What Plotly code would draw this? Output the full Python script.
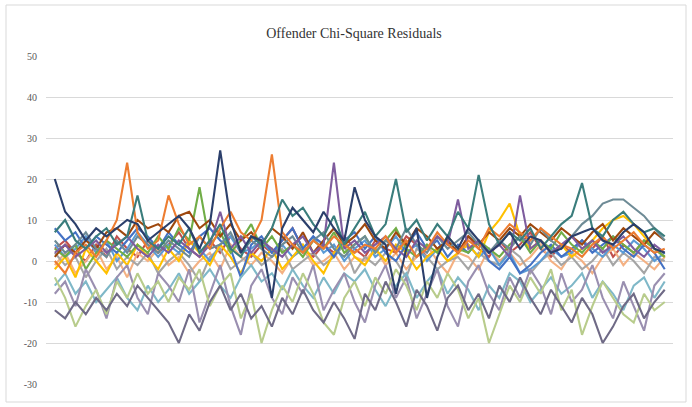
import plotly.graph_objects as go

title_text = "Offender Chi-Square Residuals"
x_idx = list(range(1, 61))
y_ticks = [-30, -20, -10, 0, 10, 20, 30, 40, 50]

s01 = [20, 12, 9, 5, 8, 6, 8, 10, 9, 5, 7, 9, 11, 8, 3, 9, 27, 10, 2, 6,
       5, -9, 8, 13, 10, 7, 12, 8, 5, 18, 10, 6, 4, -8, 3, 8, -9, 1, 6, 3,
       8, 5, 2, 4, 7, 3, 6, 5, 2, 3, 6, 7, 8, 5, 4, 7, 9, 7, 3, 2]
s02 = [0, -3, 2, 4, 1, 5, 10, 24, 7, 3, 5, 16, 9, 4, 6, 3, 8, 12, 7, 5,
       10, 26, 7, 4, 2, 5, 3, 6, 4, 2, 4, 3, 6, 2, 5, 1, 3, 7, 4, 2,
       5, 3, 8, 6, 9, 7, 5, 8, 6, 4, 3, 1, 4, 6, 3, 5, 7, 4, 2, 3]
s03 = [3, 1, 4, -2, 2, 5, 3, 1, 4, 2, 6, 3, 8, 5, 18, 4, 7, 2, 5, 9,
       3, 6, 2, 4, 1, 5, 3, 7, 2, 4, 6, 2, 5, 8, 3, 1, 4, 2, 6, 3,
       2, 5, 3, 1, 4, 6, 2, 5, 3, 7, 4, 2, 5, 3, 6, 4, 2, 5, 3, 1]
s04 = [7, 10, 5, 3, 6, 8, 4, 6, 16, 5, 3, 6, 4, 8, 2, 5, 9, 3, 1, 6,
       4, 8, 15, 11, 13, 9, 6, 11, 4, 8, 12, 6, 9, 20, 7, 10, 5, 9, 6, 12,
       8, 21, 9, 4, 7, 5, 8, 3, 6, 9, 11, 19, 8, 6, 10, 12, 9, 7, 8, 6]
s05 = [5, 2, 4, 7, 3, 1, 5, 2, 6, 4, 2, 5, 3, 1, 6, 3, 4, 7, 2, 5,
       3, 1, 4, 6, 2, 5, 7, 3, 1, 4, 6, 2, 5, 3, 8, 4, 2, 6, 3, 5,
       7, 4, 2, 5, 3, 6, 4, 8, 5, 3, 6, 9, 11, 14, 15, 15, 13, 11, 8, 5]
s06 = [2, 4, 1, 3, 5, 2, 4, 6, 3, 1, 4, 2, 5, 3, 1, 4, 12, 3, 6, 2,
       5, 3, 1, 4, 6, 2, 4, 24, 3, 5, 2, 4, 6, 3, 1, 5, 3, 6, 4, 15,
       3, 5, 2, 4, 1, 16, 3, 5, 2, 4, 6, 3, 5, 2, 4, 6, 3, 1, 4, 2]
s07 = [-12, -14, -10, -13, -9, -12, -8, -11, -6, -9, -12, -15, -20, -13, -17, -10, -6, -12, -8, -14,
       -11, -16, -9, -13, -7, -12, -15, -10, -14, -19, -8, -12, -5, -10, -16, -7, -11, -17, -9, -6,
       -12, -8, -14, -6, -10, -4, -9, -13, -7, -11, -15, -9, -13, -20, -16, -11, -8, -14, -10, -7]
s08 = [-4, -9, -16, -11, -7, -13, -5, -9, -3, -8, -5, -10, -4, -7, -2, -11, -6, -3, -14, -8,
       -20, -12, -6, -10, -3, -8, -15, -18, -9, -5, -11, -4, -8, -2, -6, -12, -5, -9, -3, -7,
       -14, -9, -20, -13, -6, -10, -4, -8, -2, -12, -7, -18, -11, -5, -9, -13, -15, -8, -12, -10]
s09 = [-6, -3, -8, -5, -10, -7, -4, -9, -12, -6, -10, -7, -3, -8, -5, -2, -6, -9, -4, -1,
       -5, -3, -7, -2, -6, -9, -4, -8, -3, -5, -2, -7, -11, -6, -3, -9, -5, -2, -8, -4,
       -7, -12, -6, -9, -3, -5, -10, -7, -4, -8, -6, -3, -9, -5, -8, -12, -6, -4, -9, -5]
s10 = [-2, 1, -4, 3, 0, -3, 2, -1, 4, 1, -2, 3, 0, 5, 2, -1, 4, 1, -3, 2,
       0, 3, -2, 1, 4, 0, -3, 2, 5, 1, -1, 3, 0, 4, 2, -2, 1, 3, 0, 2,
       4, 1, 7, 10, 14, 6, 3, 5, 2, 4, 1, 3, 5, 8, 10, 11, 9, 6, 3, 1]
s11 = [8, 5, 7, 3, 6, 4, 2, 5, 8, 6, 3, 7, 4, 2, 6, 8, 5, 3, -4, 4,
       6, 2, 5, 8, 3, 6, 4, 1, 5, 7, 3, 6, 2, 0, 4, 7, 3, 5, 1, 4,
       2, 5, 0, -2, 1, -3, -1, 2, 4, 1, 3, 5, 2, 4, 6, 3, 1, 4, 2, -2]
s12 = [1, 4, 2, 5, 3, 7, 8, 6, 10, 8, 9, 7, 11, 12, 8, 10, 6, 9, 5, 7,
       4, 8, 6, 3, 7, 2, 5, 8, 4, 6, 9, 5, 3, 7, 4, 8, 6, 3, 5, 2,
       6, 4, 7, 5, 8, 6, 9, 7, 5, 8, 6, 4, 7, 9, 5, 8, 6, 4, 7, 5]
s13 = [-1, 2, -3, 0, 3, -2, 1, -4, 2, 0, 3, -1, 1, -3, 0, 2, -2, 4, 1, -1,
       2, 0, -3, 1, 3, -1, 0, 2, -2, 1, 0, 3, -1, 2, -2, 1, 4, 0, -3, 2,
       1, -2, 3, 0, 2, -1, 1, 4, 0, -2, 2, 0, -3, 1, 3, -1, 2, 0, -2, 1]
s14 = [2, -1, 1, -4, 0, 3, -2, 1, -1, 2, -3, 0, 2, -1, -5, 1, 3, -2, 0, 2,
       -1, 1, 3, -2, 0, 2, -1, 1, 4, -3, 1, -1, 2, 0, -4, 3, 1, -2, 0, 1,
       -2, 2, 0, -1, 3, 1, -3, 0, 2, -1, 1, -2, 0, 3, -1, 2, 0, -3, 1, 0]
s15 = [4, 1, 3, 6, 2, 5, 0, 3, 7, 4, 1, 4, 2, 5, 3, 0, 4, 6, 2, 3,
       5, 2, 4, 1, 3, 6, 2, 4, 0, 3, 5, 1, 3, 6, 2, 4, 0, 3, 5, 2,
       4, 1, 3, -1, 2, -3, -2, 0, 3, 1, 2, 5, 3, 1, 4, 2, 5, 3, 0, 2]
s16 = [3, 5, 2, 0, 4, 1, 6, 3, 1, 5, 2, 4, 7, 3, 1, 5, 2, 6, 3, 1,
       4, 2, 5, 8, 3, 1, 4, 2, 6, 3, 1, 5, 3, 2, 6, 4, 1, 3, 5, 2,
       6, 3, 1, 5, 2, 4, 7, 3, 1, 4, 2, 5, 3, 6, 1, 4, 2, 5, 3, 1]
s17 = [-8, -5, -11, -2, -7, -14, -4, -1, -9, -13, -3, -6, -10, -2, -15, -8, -1, -11, -18, -6,
       -2, -9, -13, -4, -8, -1, -12, -7, -3, -10, -15, -6, -1, -9, -4, -14, -8, -2, -11, -16,
       -5, -1, -8, -12, -4, -9, -2, -6, -13, -3, -10, -7, -1, -9, -14, -5, -11, -17, -6, -3]

series = [s16, s13, s14, s15, s10, s11, s03, s12, s09, s17, s08, s07, s05, s06, s02, s04, s01]
colors = ["#C0504D", "#F4B183", "#A5A5A5", "#5B9BD5", "#FFC000", "#4472C4", "#70AD47", "#9E480E",
          "#7FB8C8", "#9A8FB0", "#B8CC8C", "#6F6A86", "#6E8B96", "#7E5C9E", "#ED7D31", "#3A7D7C", "#2B3F6B"]

fig = go.Figure()
for k, (ys, c) in enumerate(zip(series, colors)):
    fig.add_trace(go.Scatter(x=x_idx, y=ys, mode="lines", name=f"Series{k+1}",
                             line=dict(color=c, width=2.1), showlegend=False))

W, H = 692, 407
ml, mr, mt, mb = 46, 19, 56, 23
pw, ph = W - ml - mr, H - mt - mb

def px_x(p):
    return (p - ml) / pw

def px_y(p):
    return (H - mb - p) / ph

fig.add_shape(type="rect", xref="paper", yref="paper",
              x0=px_x(6), x1=px_x(686), y0=px_y(402), y1=px_y(5),
              line=dict(color="#D9D9D9", width=1), fillcolor="rgba(0,0,0,0)", layer="below")

fig.update_layout(
    width=W, height=H,
    margin=dict(l=ml, r=mr, t=mt, b=mb),
    paper_bgcolor="white", plot_bgcolor="white",
    title=dict(text=title_text, x=354 / W, xanchor="center", y=1 - 33 / H, yanchor="middle",
               yref="container", xref="container",
               font=dict(family="Liberation Serif", size=14, color="#333333")),
    xaxis=dict(range=[0.15, 60.8], showgrid=False, showticklabels=False, zeroline=False,
               showline=False, ticks=""),
    yaxis=dict(range=[-30, 50], tickvals=y_ticks, ticktext=[str(v) for v in y_ticks],
               showgrid=True, gridcolor="#D9D9D9", gridwidth=1, zeroline=False,
               showline=False, ticks="", ticklabelstandoff=8,
               tickfont=dict(family="Liberation Serif", size=10, color="#595959")),
)

fig.write_html("out.html")
